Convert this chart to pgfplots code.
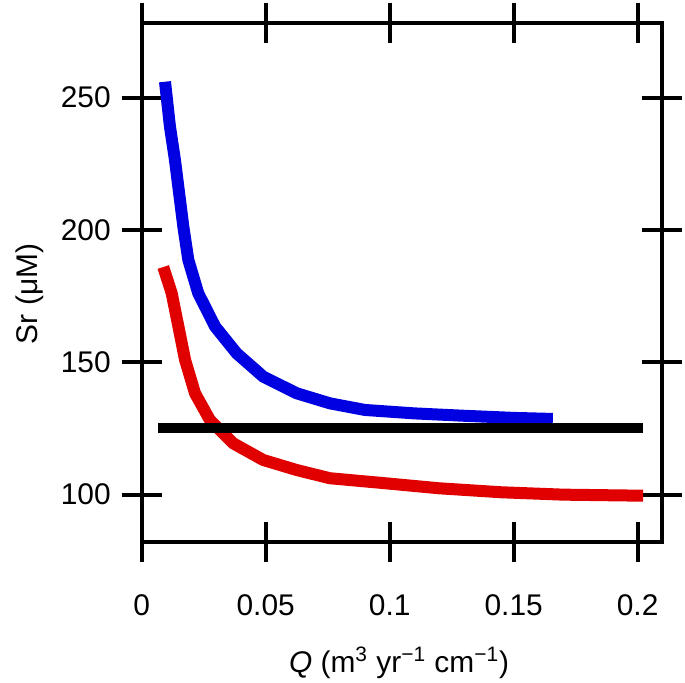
\documentclass[border=0pt]{standalone}
\usepackage{fontspec}
\setmainfont{Liberation Sans}
\usepackage{pgfplots}
\pgfplotsset{compat=1.18}
\usetikzlibrary{calc}
\definecolor{cblue}{RGB}{0,0,225}
\definecolor{cred}{RGB}{225,0,0}
\begin{document}
\begin{tikzpicture}
\begin{axis}[
  scale only axis,
  width=260bp, height=259.8bp,
  xmin=0, xmax=0.2097, ymin=82, ymax=278.3,
  axis line style={line width=2bp},
  every tick/.style={black, line width=2bp},
  tick align=center,
  major tick length=20bp,
  xtick={0,0.05,0.1,0.15,0.2},
  xticklabels={0,0.05,0.1,0.15,0.2},
  ytick={100,150,200,250},
  yticklabels={100,150,200,250},
  xtick pos=both, ytick pos=both,
  tick label style={font=\fontsize{15}{18}\selectfont},
  xticklabel style={yshift=-12.5bp},
  yticklabel style={xshift=-2bp},
  every axis y label/.style={at={(axis description cs:-0.215,0.478)}, rotate=90, anchor=center, font=\fontsize{15}{18}\selectfont},
  every axis x label/.style={at={(axis description cs:0.495,-0.232)}, anchor=center, font=\fontsize{15}{18}\selectfont},
  xlabel={\textit{Q} (m\textsuperscript{3} yr\textsuperscript{−1} cm\textsuperscript{−1})},
  ylabel={Sr (μM)},
  clip=false,
]
\addplot[cblue, line width=6bp, line cap=butt, line join=round] coordinates {
(0.0094,256) (0.0114,239) (0.0134,226.5) (0.0168,201.2) (0.0188,188.7)
(0.0228,176.1) (0.0296,163.5) (0.0383,153.4) (0.049,144.6) (0.0625,138.3)
(0.0759,134.5) (0.09,132) (0.11,130.7) (0.13,129.8) (0.15,129) (0.1658,128.6)
};
\addplot[cred, line width=6bp, line cap=butt, line join=round] coordinates {
(0.0087,186) (0.0121,176.1) (0.0148,163.5) (0.0175,150.9) (0.0215,138.3)
(0.0275,128.2) (0.0369,119.4) (0.049,113.1) (0.0625,109.3) (0.0759,106.2)
(0.096,104.5) (0.12,102.4) (0.145,100.9) (0.17,100) (0.2022,99.6)
};
\addplot[black, line width=5bp, line cap=butt] coordinates {
(0.0067,125) (0.2022,125)
};
\coordinate (bl) at (rel axis cs:0,0);
\coordinate (tr) at (rel axis cs:1,1);
\end{axis}
\pgfresetboundingbox
\path ($(bl)+(-70.85bp,-70.35bp)$) rectangle ($(tr)+(11.65bp,11.35bp)$);
\end{tikzpicture}
\end{document}
